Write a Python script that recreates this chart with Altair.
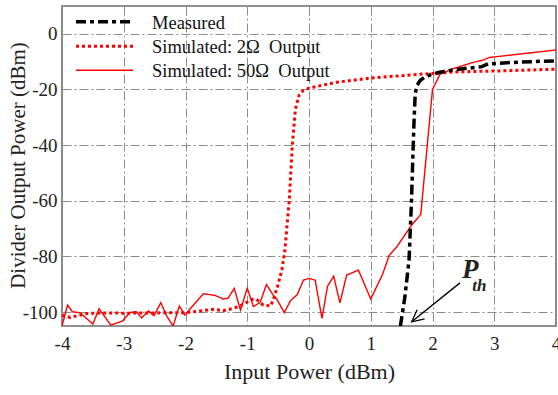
import altair as alt
import pandas as pd

# ---- data ----
sim50_x = [-4.0, -3.91, -3.83, -3.71, -3.50, -3.40, -3.21, -3.02, -2.90, -2.80, -2.71, -2.60, -2.51,
           -2.40, -2.30, -2.20, -2.10, -2.01, -1.85, -1.71, -1.52, -1.39, -1.31, -1.21, -1.11, -1.00,
           -0.90, -0.79, -0.69, -0.58, -0.52, -0.40, -0.30, -0.19, -0.09, 0.00, 0.10, 0.21, 0.30,
           0.40, 0.50, 0.61, 0.80, 1.00, 1.19, 1.30, 1.42, 1.66, 1.81, 2.00, 2.12, 2.31, 2.61, 2.82,
           2.92, 4.0]
sim50_y = [-105, -97.5, -99.9, -100.2, -104.3, -98.8, -104.7, -103.2, -100.2, -99.8, -102.1, -99.6,
           -101.3, -96.6, -101.6, -105, -97.8, -101.1, -96.9, -93.4, -94.0, -95.3, -95.0, -91.5,
           -99.3, -91.4, -98.0, -96.5, -90.1, -93.9, -95.4, -100.2, -95.9, -93.7, -88.5, -87.9,
           -88.5, -102.3, -90.7, -87.1, -96.7, -86.7, -84.9, -95.3, -86.5, -79.6, -76.6, -68.8,
           -64.9, -20.0, -14.6, -12.7, -10.6, -9.4, -8.5, -5.8]

sim2_x = [-4.0, -3.87, -3.6, -3.3, -3.0, -2.5, -2.0, -1.77, -1.55, -1.39, -1.23, -1.09, -0.93,
          -0.85, -0.74, -0.62, -0.58, -0.51, -0.44, -0.39, -0.36, -0.32, -0.27, -0.22, -0.16,
          -0.09, 0.0, 0.45, 1.0, 1.69, 2.34, 3.15, 4.0]
sim2_y = [-101.1, -101.9, -100.5, -100.3, -100.4, -100.3, -100.2, -99.6, -99.0, -99.5, -98.7,
          -97.5, -95.5, -95.4, -97.5, -97.8, -95.7, -90.9, -84.9, -77.8, -70.0, -60.0, -40.0,
          -27.0, -22.0, -20.3, -19.5, -17.4, -15.9, -14.7, -13.7, -13.3, -12.7]

meas_x = [1.48, 1.55, 1.62, 1.66, 1.68, 1.70, 1.72, 1.75, 1.80, 1.87, 1.96, 2.10, 2.34, 2.60,
          2.80, 2.90, 3.2, 3.6, 4.0]
meas_y = [-105, -95, -81.4, -60, -45.5, -32, -21.5, -18.5, -16.8, -15.6, -14.8, -13.9, -12.9,
          -12.3, -11.8, -10.8, -10.4, -10.0, -9.7]

series_names = ["Measured", "Simulated: 2Ω\u00a0\u00a0Output", "Simulated: 50Ω\u00a0\u00a0Output"]
series_colors = ["#000000", "#ff0000", "#ff0000"]
series_dash = [[10, 4, 4, 4], [3, 3], [1, 0]]
series_width = [3.5, 3.0, 1.4]

x_ticks = [-4, -3, -2, -1, 0, 1, 2, 3, 4]
y_ticks = [0, -20, -40, -60, -80, -100]

# annotation (data units)
arrow_start = [2.445, -89.5]
arrow_end = [1.663, -103.5]
p_label = [2.61, -87.8]
th_label = [2.76, -92.3]

FONT = "Liberation Serif"
grid_dash = [9, 3, 2, 3]

xscale = alt.Scale(domain=[-4, 4], nice=False, zero=False)
yscale = alt.Scale(domain=[-105, 10], nice=False, zero=False)

xaxis = alt.Axis(values=x_ticks, title="Input Power (dBm)", grid=True, gridDash=grid_dash,
                 gridColor="#8c8c8c", gridWidth=1, gridOpacity=1, ticks=False, domain=False,
                 labelExpr="'' + datum.value",
                 labelFont=FONT, labelFontSize=19, labelColor="#222", labelPadding=8,
                 titleFont=FONT, titleFontSize=22, titleFontWeight="normal", titleColor="#222",
                 titlePadding=8, labelFlush=False)
yaxis = alt.Axis(values=y_ticks, title="Divider Output Power (dBm)", grid=True, gridDash=grid_dash,
                 gridColor="#8c8c8c", gridWidth=1, gridOpacity=1, ticks=False, domain=False,
                 labelExpr="'' + datum.value",
                 labelFont=FONT, labelFontSize=19, labelColor="#222", labelPadding=5,
                 titleFont=FONT, titleFontSize=21, titleFontWeight="normal", titleColor="#222",
                 titleX=-44, titleY=159, titleAngle=270, titleAlign="center",
                 titleBaseline="middle", labelFlush=False)

series_data = [(meas_x, meas_y), (sim2_x, sim2_y), (sim50_x, sim50_y)]

# draw order: 50Ω, 2Ω, measured on top
line_layers = []
for i in [2, 1, 0]:
    xs, ys = series_data[i]
    d = pd.DataFrame({"x": xs, "y": ys, "series": series_names[i]})
    line_layers.append(
        alt.Chart(d).mark_line(clip=True, strokeCap="butt", color=series_colors[i],
                               strokeDash=series_dash[i], strokeWidth=series_width[i]).encode(
            x=alt.X("x:Q", scale=xscale, axis=xaxis),
            y=alt.Y("y:Q", scale=yscale, axis=yaxis),
            order=alt.Order("x:Q"),
        ))

# ---- legend (top-left, inside plot; pixel offsets from plot origin) ----
legend_layers = []
leg_row_y = [15.7, 40.2, 64.2]
for i, name in enumerate(series_names):
    legend_layers.append(
        alt.Chart().mark_rule(color=series_colors[i], strokeDash=series_dash[i],
                              strokeWidth=series_width[i], strokeCap="butt").encode(
            x=alt.value(14), x2=alt.value(71), y=alt.value(leg_row_y[i])))
    legend_layers.append(
        alt.Chart().mark_text(font=FONT, fontSize=18.5, color="#111", align="left",
                              baseline="middle", text=name).encode(
            x=alt.value(90), y=alt.value(leg_row_y[i] + 1)))

ann = pd.DataFrame({"x1": [arrow_start[0]], "y1": [arrow_start[1]],
                    "x2": [arrow_end[0]], "y2": [arrow_end[1]]})
arrow_line = alt.Chart(ann).mark_rule(color="black", strokeWidth=1.3).encode(
    x=alt.X("x1:Q", scale=xscale), y=alt.Y("y1:Q", scale=yscale),
    x2="x2:Q", y2="y2:Q")
arrow_head = alt.Chart(ann).mark_point(shape="M -1 -0.5 L 0 0 L -1 0.5", filled=False,
                                       color="black", strokeWidth=1.3, size=560, angle=141,
                                       opacity=1).encode(
    x=alt.X("x2:Q", scale=xscale), y=alt.Y("y2:Q", scale=yscale))

ptxt = pd.DataFrame({"x": [p_label[0]], "y": [p_label[1]], "t": ["P"]})
thtxt = pd.DataFrame({"x": [th_label[0]], "y": [th_label[1]], "t": ["th"]})
p_mark = alt.Chart(ptxt).mark_text(font=FONT, fontSize=27, fontWeight="bold", fontStyle="italic",
                                   color="#222", baseline="alphabetic").encode(
    x=alt.X("x:Q", scale=xscale), y=alt.Y("y:Q", scale=yscale), text="t:N")
th_mark = alt.Chart(thtxt).mark_text(font=FONT, fontSize=17, fontWeight="bold", fontStyle="italic",
                                     color="#222", baseline="alphabetic").encode(
    x=alt.X("x:Q", scale=xscale), y=alt.Y("y:Q", scale=yscale), text="t:N")

chart = alt.layer(*line_layers, arrow_line, arrow_head, p_mark, th_mark, *legend_layers).properties(
    width=494, height=320,
    autosize=alt.AutoSizeParams(type="none"),
    padding={"left": 62, "top": 6, "right": 2, "bottom": 69},
    background="white",
).configure_view(stroke="#6e6e6e", strokeWidth=1.6)

chart.save("out.html", embed_options={"renderer": "svg", "actions": False})
